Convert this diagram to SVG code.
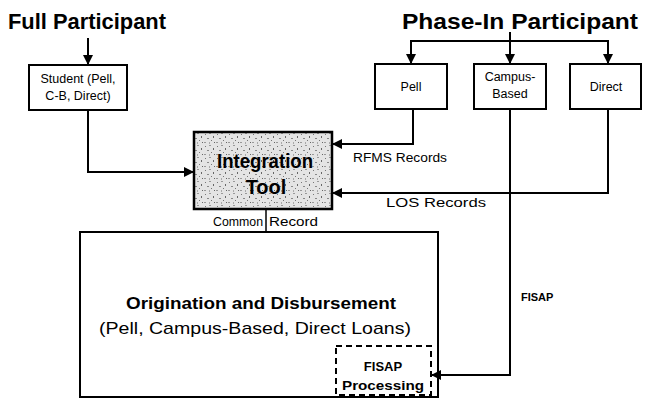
<svg xmlns="http://www.w3.org/2000/svg" width="646" height="403" viewBox="0 0 646 403">
<defs>
<marker id="ah" viewBox="0 0 10 10" refX="9" refY="5" markerWidth="5" markerHeight="5" orient="auto" markerUnits="strokeWidth">
<path d="M0,0 L10,5 L0,10 z" fill="#000"/>
</marker>
<pattern id="stip" width="12" height="12" patternUnits="userSpaceOnUse">
<rect width="12" height="12" fill="#e4e4e4"/>
<rect x="1" y="2" width="1" height="1" fill="#777"/>
<rect x="5" y="1" width="2" height="1" fill="#999"/>
<rect x="9" y="4" width="1" height="2" fill="#666"/>
<rect x="3" y="6" width="2" height="1" fill="#888"/>
<rect x="7" y="8" width="1" height="1" fill="#777"/>
<rect x="0" y="10" width="2" height="1" fill="#999"/>
<rect x="10" y="10" width="1" height="1" fill="#666"/>
<rect x="5" y="10" width="1" height="2" fill="#aaa"/>
</pattern>
</defs>
<style>
.box{fill:#fff;stroke:#000;stroke-width:2}
.t{font-family:"Liberation Sans",Arial,sans-serif;fill:#000}
.s{font-size:12.5px}
.b{font-weight:bold}
.m{text-anchor:middle}
.ln{fill:none;stroke:#000;stroke-width:2}
</style>
<rect width="646" height="403" fill="#fff"/>
<g id="title-full">
<text class="t b" x="8" y="29" font-size="22" textLength="158" lengthAdjust="spacingAndGlyphs">Full Participant</text>
</g>
<g id="title-phase">
<text class="t b" x="402" y="29" font-size="22" textLength="236" lengthAdjust="spacingAndGlyphs">Phase-In Participant</text>
</g>
<g id="student">
<rect class="box" x="29" y="65" width="98" height="45"/>
<text class="t s m" x="78" y="83">Student (Pell,</text>
<text class="t s m" x="78" y="100">C-B, Direct)</text>
</g>
<g id="pell">
<rect class="box" x="375" y="64" width="72" height="45"/>
<text class="t s m" x="411" y="91">Pell</text>
</g>
<g id="campus">
<rect class="box" x="474" y="64" width="72" height="45"/>
<text class="t s m" x="510" y="81">Campus-</text>
<text class="t s m" x="510" y="98">Based</text>
</g>
<g id="direct">
<rect class="box" x="570" y="64" width="71" height="45"/>
<text class="t s m" x="606" y="91">Direct</text>
</g>
<g id="integration">
<rect x="194" y="132" width="138" height="77" fill="url(#stip)" stroke="#000" stroke-width="2.5"/>
<text class="t b m" x="265" y="168" font-size="20" textLength="96" lengthAdjust="spacingAndGlyphs">Integration</text>
<text class="t b m" x="266" y="194" font-size="20">Tool</text>
</g>
<g id="origination">
<rect class="box" x="80" y="232" width="358" height="165"/>
<text class="t b m" x="261" y="309" font-size="17" textLength="270" lengthAdjust="spacingAndGlyphs">Origination and Disbursement</text>
<text class="t m" x="255" y="334" font-size="17" textLength="312" lengthAdjust="spacingAndGlyphs">(Pell, Campus-Based, Direct Loans)</text>
</g>
<g id="fisap">
<rect x="336" y="346" width="95" height="49" fill="#fff" stroke="#000" stroke-width="2" stroke-dasharray="6,4"/>
<text class="t b m" x="383" y="371" font-size="13">FISAP</text>
<text class="t b m" x="383" y="390" font-size="13" textLength="82" lengthAdjust="spacingAndGlyphs">Processing</text>
</g>
<g id="connectors">
<line class="ln" x1="88" y1="38" x2="88" y2="64" marker-end="url(#ah)"/>
<polyline class="ln" points="88,110 88,172 193,172" marker-end="url(#ah)"/>
<line class="ln" x1="510" y1="32" x2="510" y2="41"/>
<line class="ln" x1="410" y1="41" x2="609" y2="41"/>
<line class="ln" x1="411" y1="40" x2="411" y2="63" marker-end="url(#ah)"/>
<line class="ln" x1="510" y1="40" x2="510" y2="63" marker-end="url(#ah)"/>
<line class="ln" x1="608" y1="40" x2="608" y2="63" marker-end="url(#ah)"/>
<polyline class="ln" points="413,109 413,144 333,144" marker-end="url(#ah)"/>
<polyline class="ln" points="608,109 608,193 333,193" marker-end="url(#ah)"/>
<polyline class="ln" points="510,109 510,375 432,375" marker-end="url(#ah)"/>
<line x1="266" y1="209" x2="266" y2="232" stroke="#000" stroke-width="1.5"/>
<text class="t s" x="353" y="162" textLength="94" lengthAdjust="spacingAndGlyphs">RFMS Records</text>
<text class="t s" x="386" y="207" textLength="100" lengthAdjust="spacingAndGlyphs">LOS Records</text>
<text class="t s" x="213" y="226" textLength="50" lengthAdjust="spacingAndGlyphs">Common</text>
<text class="t s" x="269" y="226" textLength="49" lengthAdjust="spacingAndGlyphs">Record</text>
<text class="t b" x="521" y="301" font-size="11">FISAP</text>
</g>
</svg>
